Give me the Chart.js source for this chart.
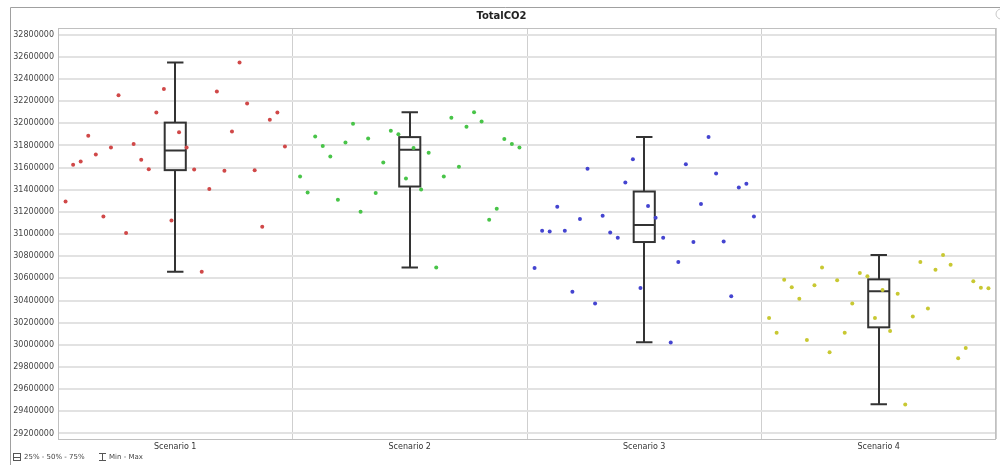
<!DOCTYPE html>
<html lang="en">
<head>
  <meta charset="UTF-8">
  <title>TotalCO2</title>
  <script src="https://cdn.jsdelivr.net/npm/chart.js"></script>
  <style>
    body { margin: 0; background: #fff; }
    #wrap { width: 1000px; height: 465px; }
  </style>
</head>
<body>
  <div id="wrap"><canvas id="chart" width="1000" height="465"></canvas></div>

  <script>
    const categories = ['Scenario 1', 'Scenario 2', 'Scenario 3', 'Scenario 4'];
    const colors = ['#d04848', '#48c448', '#4444d0', '#c8c832'];

    // run values per scenario, in the order they are plotted left to right
    const scenario1 = [31294000, 31625000, 31655000, 31887000, 31718000, 31159000, 31781000, 32254000, 31009000, 31812000,
                       31670000, 31586000, 32097000, 32310000, 31123000, 31920000, 31781000, 31583000, 30660000, 31406000,
                       32286000, 31571000, 31925000, 32548000, 32178000, 31577000, 31066000, 32031000, 32097000, 31790000];
    const scenario2 = [31520000, 31375000, 31880000, 31794000, 31700000, 31309000, 31826000, 31995000, 31201000, 31862000,
                       31370000, 31646000, 31932000, 31902000, 31502000, 31776000, 31402000, 31733000, 30699000, 31520000,
                       32049000, 31607000, 31968000, 32100000, 32016000, 31129000, 31228000, 31857000, 31814000, 31781000];
    const scenario3 = [30694000, 31030000, 31024000, 31246000, 31030000, 30480000, 31135000, 31589000, 30374000, 31165000,
                       31015000, 30967000, 31465000, 31676000, 30513000, 31253000, 31147000, 30967000, 30020000, 30748000,
                       31631000, 30928000, 31271000, 31875000, 31547000, 30933000, 30438000, 31420000, 31454000, 31159000];
    const scenario4 = [30243000, 30108000, 30588000, 30519000, 30417000, 30044000, 30537000, 30699000, 29933000, 30582000,
                       30108000, 30374000, 30649000, 30618000, 30243000, 30495000, 30126000, 30462000, 29461000, 30255000,
                       30748000, 30329000, 30678000, 30811000, 30723000, 29878000, 29972000, 30573000, 30516000, 30510000];
    const series = [scenario1, scenario2, scenario3, scenario4];

    // box plot statistics per scenario
    const boxMin = [30660000, 30699000, 30023000, 29464000];
    const boxQ1  = [31577000, 31429000, 30928000, 30158000];
    const boxMed = [31754000, 31760000, 31081000, 30483000];
    const boxQ3  = [32006000, 31875000, 31384000, 30591000];
    const boxMax = [32548000, 32100000, 31875000, 30811000];

    const yTicks = [29200000, 29400000, 29600000, 29800000, 30000000, 30200000, 30400000, 30600000, 30800000, 31000000,
                    31200000, 31400000, 31600000, 31800000, 32000000, 32200000, 32400000, 32600000, 32800000];

    const FONT = "'DejaVu Sans', sans-serif";

    // frame, box/whisker marks and legend
    const boxPlugin = {
      id: 'boxes',
      beforeDraw(chart) {
        const c = chart.ctx;
        c.save();
        c.strokeStyle = '#a0a0a0';
        c.lineWidth = 1;
        c.beginPath();
        c.moveTo(10.5, 470);
        c.lineTo(10.5, 7.5);
        c.lineTo(1000, 7.5);
        c.stroke();
        c.strokeStyle = '#c8c8c8';
        c.beginPath();
        c.arc(1001, 14, 5, 0, Math.PI * 2);
        c.stroke();
        c.restore();
      },
      beforeDatasetsDraw(chart) {
        const c = chart.ctx;
        const xs = chart.scales.x, ys = chart.scales.y;
        const a = chart.chartArea;
        c.save();
        c.strokeStyle = '#c0c0c0';
        c.lineWidth = 1;
        c.strokeRect(a.left + 0.5, a.top + 0.5, a.right - a.left - 1, a.bottom - a.top);
        c.strokeStyle = '#333';
        c.lineWidth = 2;
        categories.forEach((_, i) => {
          const xc = Math.round(xs.getPixelForValue(i + 0.5));
          const bl = xs.getPixelForValue(i + 0.5 - 0.045), br = xs.getPixelForValue(i + 0.5 + 0.045);
          const cl = xs.getPixelForValue(i + 0.5 - 0.035), cr = xs.getPixelForValue(i + 0.5 + 0.035);
          const yMin = ys.getPixelForValue(boxMin[i]), yMax = ys.getPixelForValue(boxMax[i]);
          const yQ1 = ys.getPixelForValue(boxQ1[i]), yQ3 = ys.getPixelForValue(boxQ3[i]);
          const yMed = ys.getPixelForValue(boxMed[i]);
          c.beginPath();
          c.moveTo(xc, yMax); c.lineTo(xc, yQ3);
          c.moveTo(xc, yQ1); c.lineTo(xc, yMin);
          c.moveTo(cl, yMax); c.lineTo(cr, yMax);
          c.moveTo(cl, yMin); c.lineTo(cr, yMin);
          c.moveTo(bl, yMed); c.lineTo(br, yMed);
          c.stroke();
          c.strokeRect(bl, yQ3, br - bl, yQ1 - yQ3);
        });
        c.restore();
      },
      afterDraw(chart) {
        const c = chart.ctx;
        c.save();
        c.strokeStyle = '#555';
        c.lineWidth = 1;
        c.strokeRect(13.5, 453.5, 7, 7);
        c.beginPath();
        c.moveTo(13.5, 457.5); c.lineTo(20.5, 457.5);
        c.moveTo(102.5, 453); c.lineTo(102.5, 461);
        c.moveTo(99, 453.5); c.lineTo(106, 453.5);
        c.moveTo(99, 460.5); c.lineTo(106, 460.5);
        c.stroke();
        c.fillStyle = '#444';
        c.font = '7px ' + FONT;
        c.textBaseline = 'middle';
        c.fillText('25% - 50% - 75%', 24, 457.5);
        c.fillText('Min - Max', 109, 457.5);
        c.restore();
      }
    };

    const datasets = series.map((vals, s) => ({
      label: categories[s],
      data: vals.map((v, i) => ({ x: s + (i + 1) / (vals.length + 1), y: v })),
      backgroundColor: colors[s],
      borderColor: colors[s],
      borderWidth: 0,
      pointRadius: 2
    }));

    new Chart(document.getElementById('chart'), {
      type: 'scatter',
      data: { datasets },
      options: {
        responsive: false,
        animation: false,
        events: [],
        layout: { padding: { left: 4, right: 1, top: 4, bottom: 12 } },
        plugins: {
          legend: { display: false },
          tooltip: { enabled: false },
          title: {
            display: true,
            text: 'TotalCO2',
            color: '#222',
            font: { family: FONT, size: 10, weight: 'bold' },
            padding: { top: 6, bottom: 6 }
          }
        },
        scales: {
          x: {
            type: 'linear',
            min: 0,
            max: categories.length,
            afterBuildTicks: axis => {
              const t = [];
              for (let i = 0; i <= categories.length; i++) {
                t.push({ value: i });
                if (i < categories.length) t.push({ value: i + 0.5 });
              }
              axis.ticks = t;
            },
            afterFit: scale => { scale.height = 14; },
            ticks: {
              autoSkip: false,
              maxRotation: 0,
              padding: 3,
              color: '#333',
              font: { family: FONT, size: 8 },
              callback: v => Number.isInteger(v) ? '' : categories[Math.floor(v)]
            },
            grid: {
              drawTicks: false,
              color: ctx => (ctx.tick && Number.isInteger(ctx.tick.value)) ? '#cfcfcf' : 'rgba(0,0,0,0)',
              lineWidth: 1
            },
            border: { display: false }
          },
          y: {
            min: 29150000,
            max: 32860000,
            afterBuildTicks: axis => { axis.ticks = yTicks.map(v => ({ value: v })); },
            afterFit: scale => { scale.width = 54; },
            ticks: {
              padding: 4,
              color: '#444',
              font: { family: FONT, size: 8 },
              callback: v => String(v)
            },
            grid: { drawTicks: false, color: '#e2e2e2', lineWidth: 2 },
            border: { display: false }
          }
        }
      },
      plugins: [boxPlugin]
    });
  </script>
</body>
</html>
